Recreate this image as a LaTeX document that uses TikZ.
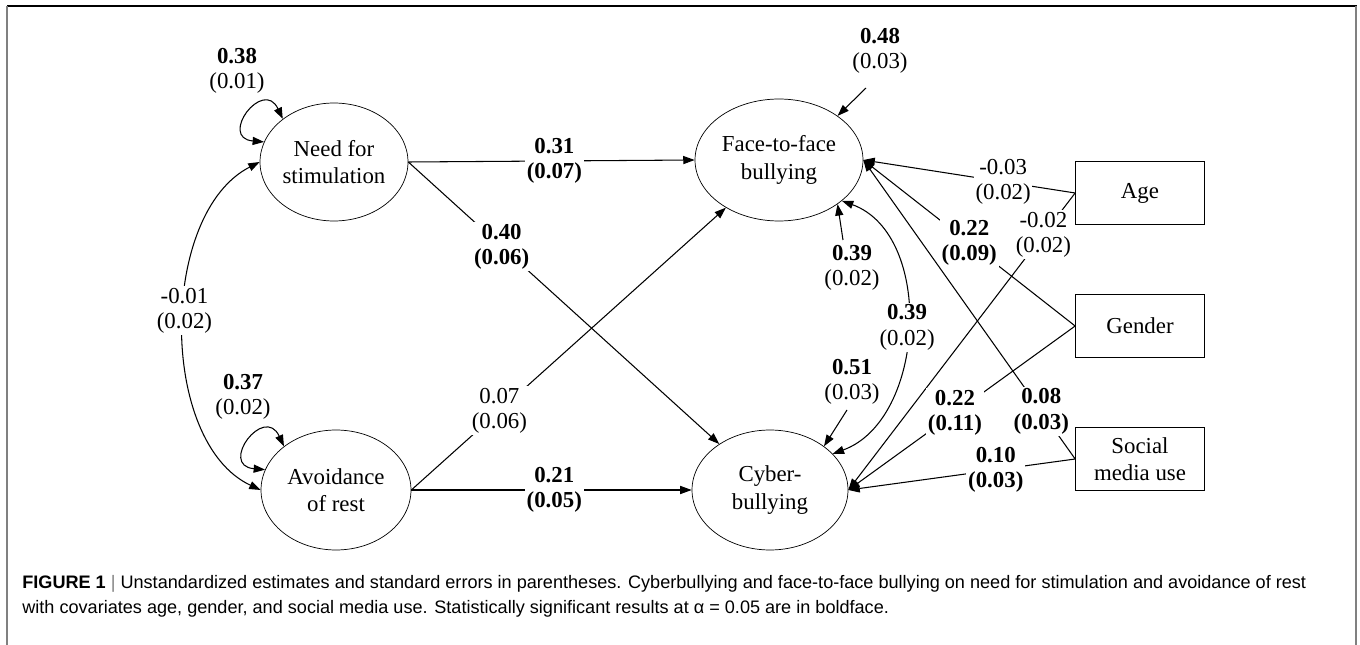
\documentclass[tikz,border=0pt]{standalone}
\usepackage{fontspec}
\setmainfont{Liberation Serif}
\setsansfont{Liberation Sans}
\usetikzlibrary{arrows.meta,shapes.geometric}
\newcommand\estbb[2]{\textbf{#1}\\\textbf{(#2)}}
\newcommand\estbp[2]{\textbf{#1}\\(#2)}
\newcommand\estpp[2]{#1\\(#2)}
\begin{document}
\begin{tikzpicture}[x=0.02cm,y=0.02cm,
    font=\fontsize{13}{15.5}\selectfont,
    latent/.style={draw,ellipse,inner sep=0pt,align=center},
    covbox/.style={draw,rectangle,minimum width=2.58cm,minimum height=1.26cm,align=center},
    path/.style={line width=0.6pt,-{Triangle[length=6.5pt,width=4.6pt]}},
    twoway/.style={line width=0.6pt,{Triangle[length=6.5pt,width=4.6pt]}-{Triangle[length=6.5pt,width=4.6pt]}},
    est/.style={fill=white,inner sep=1pt,align=center,font=\fontsize{13}{14.5}\selectfont}]
\useasboundingbox (0,0) rectangle (1360,-645);
\draw[line width=1.1pt] (7,-6) -- (1357,-6);
\draw[gray,line width=1pt] (7,-6) -- (7,-645);
\draw[gray,line width=1pt] (1356,-6) -- (1356,-645);
% latent variables
\node[latent,minimum width=2.96cm,minimum height=2.36cm] (need) at (334,-162) {Need for\\stimulation};
\node[latent,minimum width=3.0cm,minimum height=2.4cm] (avoid) at (336,-490) {Avoidance\\of rest};
\node[latent,minimum width=3.36cm,minimum height=2.44cm] (face) at (779,-160) {Face-to-face\\bullying};
\node[latent,minimum width=3.12cm,minimum height=2.4cm] (cyber) at (770,-490) {Cyber-\\bullying};
% covariates
\node[covbox] (age) at (1140,-193) {Age};
\node[covbox] (gender) at (1140,-326) {Gender};
\node[covbox] (social) at (1140,-459) {Social\\media use};
% variances and residuals
\draw[twoway] (need.140) to[out=115,in=175,looseness=4] (need.164);
\node[est] (vneed) at (237,-71) {\estbp{0.38}{0.01}};
\draw[twoway] (avoid.140) to[out=115,in=175,looseness=4] (avoid.164);
\node[est] (vavoid) at (243,-397) {\estbp{0.37}{0.02}};
\draw[twoway] (need.west) to[out=207,in=155,looseness=0.88] node[est,pos=0.46] (cov1) {\estpp{-0.01}{0.02}} (avoid.west);
\node[est] (rface) at (880,-51) {\estbp{0.48}{0.03}};
\coordinate (rface0) at (866,-88);
\draw[path] (rface0) -- (face.37);
\node[est] (rface2) at (852,-268) {\estbp{0.39}{0.02}};
\coordinate (rface20) at (843,-240);
\draw[path] (rface20) -- (face.-37);
\node[est] (rcyber) at (852,-382) {\estbp{0.51}{0.03}};
\coordinate (rcyber0) at (847,-410);
\draw[path] (rcyber0) -- (cyber.39);
\draw[twoway] (face.-33) to[out=-20,in=20] node[est,pos=0.5] (cov2) {\estbp{0.39}{0.02}} (cyber.30);
% structural paths
\draw[path] (need.east) -- node[est,pos=0.51] {\estbb{0.31}{0.07}} (face.west);
\draw[path] (need.east) -- node[est,pos=0.3] {\estbb{0.40}{0.06}} (cyber);
\draw[path] (avoid.east) -- node[est,pos=0.28] {\estpp{0.07}{0.06}} (face);
\draw[path] (avoid.east) -- node[est,pos=0.51] {\estbb{0.21}{0.05}} (cyber.west);
% covariate paths
\draw[path] (age.west) -- node[est,pos=0.34] {\estpp{-0.03}{0.02}} (face.east);
\draw[path] (gender.west) -- node[est,pos=0.5] {\estbb{0.22}{0.09}} (face.east);
\draw[path] (social.west) -- node[est,pos=0.16] {\estbb{0.08}{0.03}} (face.east);
\draw[path] (age.west) -- node[est,pos=0.14] {\estpp{-0.02}{0.02}} (cyber.east);
\draw[path] (gender.west) -- node[est,pos=0.53] {\estbb{0.22}{0.11}} (cyber.east);
\draw[path] (social.west) -- node[est,pos=0.35] {\estbb{0.10}{0.03}} (cyber.east);
% caption
\node[anchor=west,font=\sffamily\fontsize{10.3}{14.2}\selectfont,align=left,inner sep=0pt] (caption) at (22,-596)
  {\textbf{FIGURE 1} \textcolor{gray}{|} Unstandardized estimates and standard errors in parentheses. Cyberbullying and face-to-face bullying on need for stimulation and avoidance of rest\\
   with covariates age, gender, and social media use. Statistically significant results at α = 0.05 are in boldface.};
\end{tikzpicture}
\end{document}
